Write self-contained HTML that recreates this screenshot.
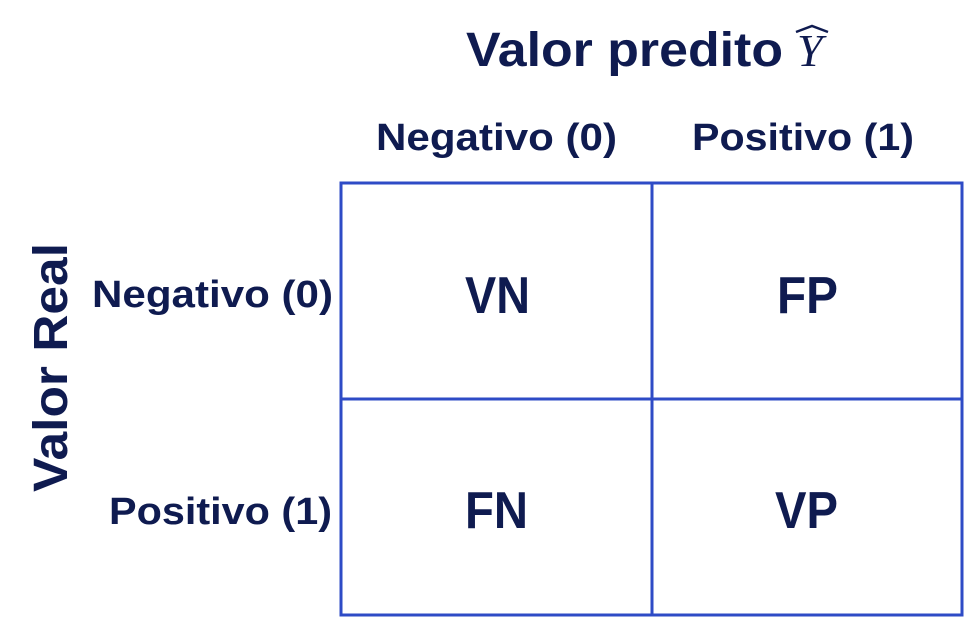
<!DOCTYPE html>
<html><head><meta charset="utf-8"><style>html,body{margin:0;padding:0;background:#fff;}svg{display:block}</style></head>
<body>
<svg width="965" height="619" viewBox="0 0 965 619" xmlns="http://www.w3.org/2000/svg">
<g fill="none" stroke="#2e4bc6" stroke-width="3">
<rect x="341" y="183" width="621" height="432"/>
<line x1="652" y1="183" x2="652" y2="615"/>
<line x1="341" y1="399" x2="962" y2="399"/>
</g>
<g fill="#0f1b50" font-family="'Liberation Sans', sans-serif" font-weight="bold">
<text x="466" y="66" font-size="48" textLength="317" lengthAdjust="spacingAndGlyphs">Valor predito</text>
<text x="797" y="66" font-size="46" font-family="'Liberation Serif', serif" font-weight="normal" font-style="italic">Y</text>
<path d="M796 32 L812 26 L828 32" stroke="#0f1b50" stroke-width="2.5" fill="none"/>
<text x="376" y="150" font-size="38" textLength="241" lengthAdjust="spacingAndGlyphs">Negativo (0)</text>
<text x="692" y="150" font-size="38" textLength="222" lengthAdjust="spacingAndGlyphs">Positivo (1)</text>
<text x="92" y="307" font-size="38" textLength="241" lengthAdjust="spacingAndGlyphs">Negativo (0)</text>
<text x="109" y="524" font-size="38" textLength="223" lengthAdjust="spacingAndGlyphs">Positivo (1)</text>
<text x="465" y="313" font-size="52" textLength="65" lengthAdjust="spacingAndGlyphs">VN</text>
<text x="777" y="313" font-size="52" textLength="61" lengthAdjust="spacingAndGlyphs">FP</text>
<text x="465" y="528" font-size="52" textLength="63" lengthAdjust="spacingAndGlyphs">FN</text>
<text x="775" y="528" font-size="52" textLength="63" lengthAdjust="spacingAndGlyphs">VP</text>
<text transform="translate(67,492) rotate(-90)" font-size="48" textLength="249" lengthAdjust="spacingAndGlyphs">Valor Real</text>
</g>
</svg>
</body></html>
